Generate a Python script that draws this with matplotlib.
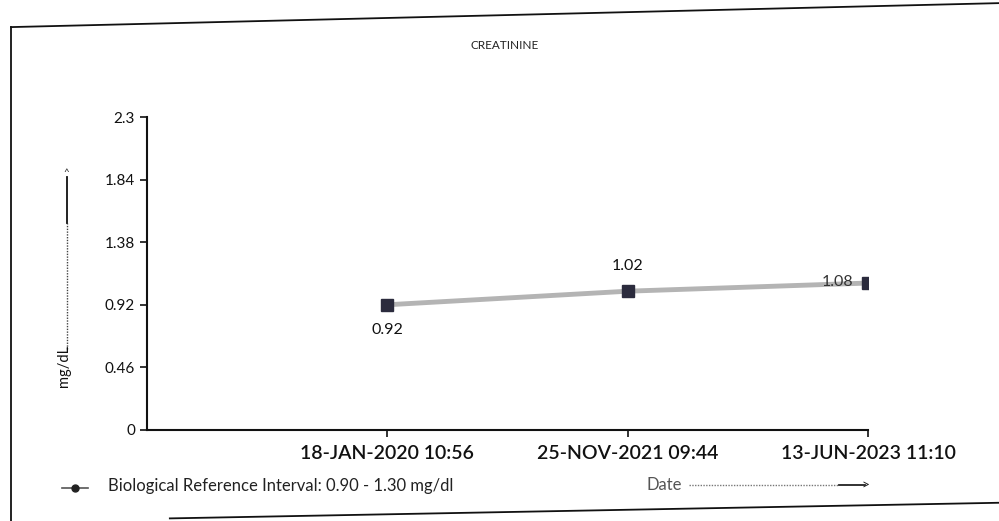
import matplotlib
matplotlib.use("Agg")
import matplotlib.pyplot as plt
from matplotlib.lines import Line2D

dates = ["18-JAN-2020 10:56", "25-NOV-2021 09:44", "13-JUN-2023 11:10"]
values = [0.92, 1.02, 1.08]
labels = ["0.92", "1.02", "1.08"]
yticks = [0, 0.46, 0.92, 1.38, 1.84, 2.3]
ytick_labels = ["0", "0.46", "0.92", "1.38", "1.84", "2.3"]

plt.rcParams["font.family"] = ["Lato", "DejaVu Sans"]

fig = plt.figure(figsize=(9.99, 5.21), dpi=100)
ax = fig.add_axes([0.147, 0.175, 0.722, 0.600])

xs = [1, 2, 3]
ax.plot(xs, values, color="#b4b4b4", lw=3.5, zorder=2)
ax.plot(xs, values, ls="none", marker="s", ms=9, color="#2b2b3d", zorder=3)

ax.annotate(labels[0], (xs[0], values[0]), xytext=(0, -18), textcoords="offset points",
            ha="center", va="center", fontsize=11.5, color="#111")
ax.annotate(labels[1], (xs[1], values[1]), xytext=(0, 18), textcoords="offset points",
            ha="center", va="center", fontsize=11.5, color="#111")
ax.annotate(labels[2], (xs[2], values[2]), xytext=(-22, 1), textcoords="offset points",
            ha="center", va="center", fontsize=11.5, color="#333")

ax.set_xlim(0, 3)
ax.set_ylim(0, 2.3)
ax.set_xticks(xs)
ax.set_xticklabels(dates, fontsize=14, color="#111", fontweight="semibold")
ax.set_yticks(yticks)
ax.set_yticklabels(ytick_labels, fontsize=11, color="#111")
ax.tick_params(axis="both", length=5, width=1.2, color="#111")
ax.tick_params(axis="x", pad=6)
for s in ("top", "right"):
    ax.spines[s].set_visible(False)
for s in ("left", "bottom"):
    ax.spines[s].set_linewidth(1.5)
    ax.spines[s].set_color("#111")

fig.text(0.505, 0.913, "CREATININE", ha="center", va="center", fontsize=8.5, color="#222")

# y axis label with arrow
fig.text(0.064, 0.297, "mg/dL", rotation=90, ha="center", va="center", fontsize=10.5, color="#111")
fig.add_artist(Line2D([0.067, 0.067], [0.33, 0.572], transform=fig.transFigure,
                      color="#444", lw=1, ls=(0, (1, 1))))
fig.add_artist(Line2D([0.067, 0.067], [0.572, 0.66], transform=fig.transFigure,
                      color="#111", lw=1.3))
fig.text(0.066, 0.668, "^", ha="center", va="center", fontsize=7, color="#222")

# legend-like footer
fig.add_artist(Line2D([0.062, 0.088], [0.063, 0.063], transform=fig.transFigure,
                      color="#555", lw=1.2))
fig.add_artist(Line2D([0.075], [0.063], transform=fig.transFigure, marker="o", ms=5,
                      color="#222", ls="none"))
fig.text(0.108, 0.067, "Biological Reference Interval: 0.90 - 1.30 mg/dl", ha="left",
         va="center", fontsize=12, color="#222")

fig.text(0.647, 0.069, "Date", ha="left", va="center", fontsize=12, color="#555")
fig.add_artist(Line2D([0.690, 0.84], [0.069, 0.069], transform=fig.transFigure,
                      color="#777", lw=1, ls=(0, (1, 1))))
fig.add_artist(Line2D([0.84, 0.866], [0.069, 0.069], transform=fig.transFigure,
                      color="#222", lw=1.3))
fig.text(0.866, 0.070, ">", ha="center", va="center", fontsize=10, color="#222")

# scanned frame (slightly skewed)
fig.add_artist(Line2D([0.011, 1.0], [0.948, 0.994], transform=fig.transFigure,
                      color="#111", lw=1.3))
fig.add_artist(Line2D([0.011, 0.011], [0.0, 0.948], transform=fig.transFigure,
                      color="#111", lw=1.3))
fig.add_artist(Line2D([0.17, 1.0], [0.005, 0.035], transform=fig.transFigure,
                      color="#111", lw=1.3))

fig.savefig("out.png", dpi=100)
